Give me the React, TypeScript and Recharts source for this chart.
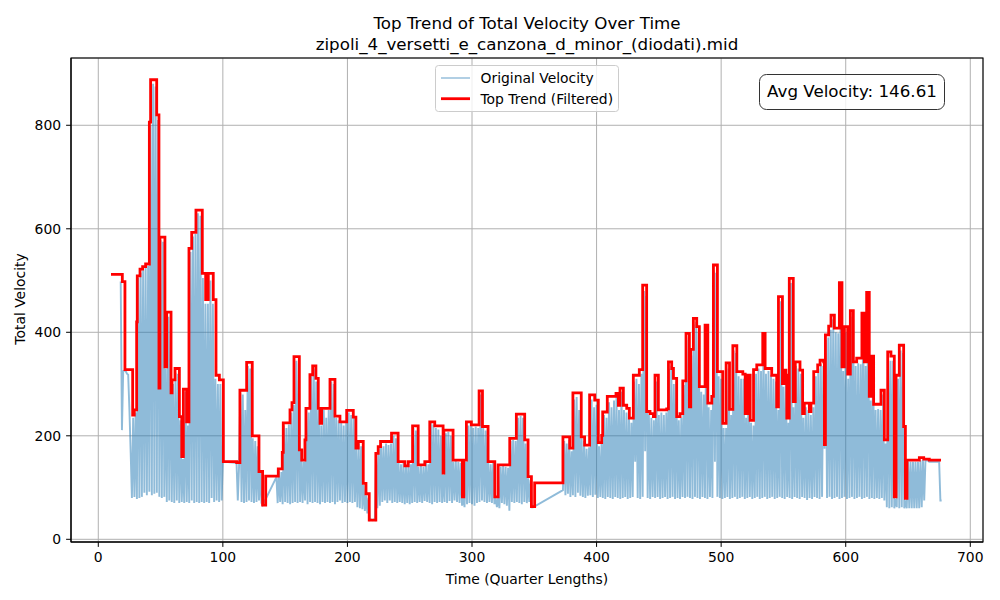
import { LineChart, Line, XAxis, YAxis, CartesianGrid, Legend } from 'recharts'

// Original velocity, read every 1 quarter length, in four runs
const ORIG_STEP = 1
const origStartA = 18
const origVelA = [
  498, 211, 325, 326, 325, 320, 318, 250, 168, 80,
  235, 82, 245, 78, 505, 80, 515, 82, 520, 90,
  525, 85, 528, 92, 800, 85, 880, 88, 875, 90,
  810, 82, 578, 80, 575, 82, 330, 72, 430, 75,
  430, 72, 300, 70, 322, 75, 320, 70, 230, 72,
  155, 70, 285, 72, 220, 70, 555, 75, 585, 70,
  590, 72, 630, 70, 625, 72, 505, 70, 455, 72,
  455, 70, 500, 80, 455, 72, 310, 75, 300, 72,
  300, 75, 150,
]
const origStartB = 110
const origVelB = [
  148, 146, 75, 140, 282, 72, 280, 70, 250, 72,
  335, 75, 330, 72, 195, 70, 190, 72, 180, 75,
  128, 70, 66,
]
const origStartC = 143
const origVelC = [
  120, 70, 132, 72, 130, 68, 220, 72, 215, 70,
  222, 68, 245, 70, 260, 72, 345, 70, 340, 72,
  168, 70, 150, 75, 250, 68, 245, 72, 315, 70,
  330, 72, 305, 70, 250, 68, 220, 72, 250, 70,
  235, 72, 250, 70, 305, 72, 300, 68, 235, 72,
  230, 75, 225, 70, 220, 72, 225, 70, 245, 72,
  240, 70, 235, 72, 175, 62, 185, 60, 180, 58,
  105, 55, 85, 50, 80, 37, 38, 37, 38, 37,
  160, 60, 178, 65, 185, 72, 180, 75, 185, 70,
  182, 75, 185, 70, 200, 72, 195, 70, 148, 72,
  145, 70, 148, 68, 140, 70, 148, 68, 145, 70,
  215, 72, 210, 70, 140, 72, 142, 70, 140, 74,
  148, 72, 145, 70, 225, 68, 222, 72, 215, 70,
  212, 72, 200, 70, 125, 72, 205, 70, 208, 74,
  200, 70, 150, 75, 152, 72, 150, 70, 148, 65,
  80, 62, 150, 68, 220, 70, 225, 68, 215, 65,
  218, 70, 215, 72, 280, 75, 215, 72, 210, 70,
  148, 72, 145, 70, 148, 68, 80, 62, 80, 60,
  140, 70, 142, 68, 140, 65, 138, 55, 190, 72,
  192, 70, 190, 72, 235, 70, 238, 68, 235, 72,
  185, 70, 118, 72, 115, 62, 62,
]
const origStartD = 373
const origVelD = [
  95, 190, 85, 185, 88, 192, 82, 170, 85, 270,
  82, 275, 90, 250, 84, 195, 82, 190, 80, 175,
  84, 178, 85, 270, 82, 255, 86, 260, 80, 180,
  82, 185, 80, 240, 78, 235, 82, 265, 80, 255,
  78, 268, 82, 275, 80, 250, 78, 285, 80, 250,
  82, 245, 78, 245, 80, 225, 82, 305, 150, 310,
  80, 300, 78, 320, 82, 480, 170, 470, 80, 240,
  78, 235, 82, 230, 80, 305, 82, 240, 78, 245,
  80, 240, 82, 245, 78, 330, 80, 335, 82, 300,
  78, 305, 80, 230, 78, 235, 82, 298, 80, 390,
  82, 385, 80, 355, 78, 415, 82, 420, 80, 400,
  78, 285, 82, 280, 80, 405, 78, 255, 82, 250,
  80, 520, 150, 515, 82, 315, 80, 310, 78, 215,
  80, 215, 82, 330, 78, 240, 80, 365, 82, 360,
  78, 315, 80, 310, 82, 310, 78, 235, 80, 305,
  82, 225, 78, 220, 80, 320, 82, 330, 78, 325,
  80, 390, 82, 320, 78, 325, 80, 318, 82, 310,
  78, 305, 80, 250, 82, 460, 80, 295, 78, 315,
  82, 225, 80, 495, 78, 255, 82, 335, 80, 330,
  78, 320, 82, 235, 80, 255, 76, 250, 80, 240,
  78, 255, 82, 315, 80, 330, 78, 338, 82, 335,
  175, 385, 80, 390, 82, 405, 78, 425, 80, 400,
  82, 398, 78, 485, 80, 325, 82, 400, 78, 310,
  80, 430, 82, 425, 78, 335, 80, 340, 82, 338,
  78, 425, 80, 335, 82, 465, 78, 268, 80, 345,
  78, 250, 80, 252, 78, 250, 80, 280, 75, 185,
  62, 350, 60, 345, 62, 345, 60, 78, 62, 310,
  60, 365, 62, 360, 60, 75, 60, 150, 60, 150,
  60, 150, 60, 150, 60, 150, 60, 152, 62, 153,
  75, 152, 152, 152, 150, 150, 150, 150, 150, 150,
  150, 150, 150, 75, 75,
]

// Top trend (filtered), step changes
const trendTime = [
  10.2, 19.3, 21.4, 27.6, 28.9, 30.8, 31.3, 33.5, 35.6, 38,
  41, 42, 46.9, 48.7, 49.5, 53.5, 54.9, 58.4, 59.2, 61.6,
  65.1, 67, 68.3, 70.9, 72.8, 75, 78.4, 83.5, 86.2, 88.3,
  92.3, 94.5, 97.2, 100.4, 111.1, 113.7, 119.1, 123.6, 129, 131.9,
  134.4, 144.5, 147.7, 148.5, 153.9, 155.5, 157.1, 161.4, 163.3, 165.9,
  166.7, 169.9, 172.1, 174.7, 176.6, 178, 179.3, 186, 190, 194,
  199.4, 204.7, 206.8, 208.7, 212.7, 214.9, 217.5, 222.8, 224.7, 226.6,
  235.4, 240.7, 246.1, 248.8, 252.3, 256.8, 262.1, 266.1, 270.1, 276.8,
  277.4, 284.8, 292.3, 293.4, 295.5, 299.5, 305.7, 308.4, 312.9, 318.3,
  321, 330.3, 335.6, 342.3, 345, 347.7, 350.3, 373, 378.4, 381,
  387.7, 390.4, 394.4, 398.5, 401.4, 404.1, 404.9, 408.6, 415.6, 417.5,
  418.8, 421.5, 424.2, 426.3, 429.5, 434.3, 437, 440.2, 442.9, 445.6,
  446.9, 449.6, 456.3, 457.7, 460.3, 461.7, 464.3, 467, 469.2, 471.8,
  474.5, 475.6, 477.7, 480.4, 482.5, 487.1, 489.3, 492.5, 493.8, 497,
  501.3, 504, 506.7, 509.4, 512.6, 517.4, 519.3, 521.1, 523.3, 526,
  528.6, 533.4, 535.3, 540.6, 544.6, 546, 549.2, 550.6, 552, 552.7,
  554.7, 557.9, 559.5, 563.3, 565.4, 566.8, 570.8, 572.1, 574.3, 577.5,
  579.4, 582.3, 582.9, 583.7, 586.3, 588.2, 590.9, 594.9, 597, 598.9,
  601.6, 603.7, 606.1, 608.8, 613, 614.9, 616.8, 618.9, 620.3, 622.4,
  628.3, 631, 633.7, 636.3, 639, 640.4, 643, 646.5, 647.9, 649.2,
  659.1, 662.6, 667.1, 676.5,
]
const trendValue = [
  512, 498, 328, 240, 250, 420, 509, 522, 527, 532,
  806, 888, 820, 292, 584, 333, 439, 283, 308, 330,
  237, 160, 290, 227, 562, 593, 636, 514, 463, 514,
  463, 317, 308, 150, 148, 288, 342, 200, 131, 66,
  122, 136, 168, 225, 250, 264, 353, 173, 153, 192,
  253, 318, 335, 311, 253, 224, 253, 309, 238, 227,
  249, 236, 176, 189, 108, 88, 37, 166, 179, 189,
  205, 150, 142, 150, 219, 144, 150, 227, 219, 128,
  211, 153, 82, 153, 227, 221, 287, 218, 150, 82,
  144, 195, 242, 192, 121, 63, 109, 198, 176, 283,
  198, 182, 279, 269, 187, 201, 246, 276, 282, 259,
  292, 259, 253, 234, 317, 328, 491, 247, 243, 237,
  317, 250, 252, 343, 330, 311, 237, 243, 306, 398,
  256, 367, 427, 411, 295, 414, 263, 276, 530, 324,
  224, 341, 251, 374, 324, 319, 243, 317, 230, 328,
  337, 398, 330, 317, 256, 469, 301, 327, 317, 234,
  504, 266, 343, 327, 243, 263, 247, 263, 324, 337,
  346, 343, 183, 395, 412, 433, 408, 496, 333, 411,
  319, 442, 343, 350, 437, 343, 477, 276, 354, 261,
  288, 192, 362, 354, 82, 317, 375, 218, 79, 153,
  158, 155, 153, 153,
]

const xTicks = [0, 100, 200, 300, 400, 500, 600, 700]
const yTicks = [0, 200, 400, 600, 800]
const avgVelocity = 146.61

const origRuns: [number, number[]][] = [
  [origStartA, origVelA],
  [origStartB, origVelB],
  [origStartC, origVelC],
  [origStartD, origVelD],
]
const origData = origRuns.flatMap(([start, vals]) =>
  vals.map((v, i) => ({ t: start + i * ORIG_STEP, v }))
)
const trendData = trendTime.map((t, i) => ({ t, v: trendValue[i] }))

const FONT = '"DejaVu Sans", sans-serif'
const tickStyle = { fontSize: 13.9, fill: '#000', fontFamily: FONT }

function LegendBox({ payload }: any) {
  const items = payload || []
  return (
    <svg width={184} height={47} style={{ display: 'block', fontFamily: FONT }}>
      <rect x={0.5} y={0.5} width={183} height={46} rx={3} fill="#fff" fillOpacity={0.8} stroke="#cccccc" />
      {items.map((it: any, i: number) => {
        const y = 13 + i * 20.7
        const red = it.color === '#ff0000'
        return (
          <g key={i}>
            <line x1={6} x2={35} y1={y} y2={y} stroke={it.color}
              strokeOpacity={red ? 1 : 0.5} strokeWidth={red ? 2.8 : 1.4} />
            <text x={45.5} y={y + 5.2} fontSize={13.9} fill="#000">{it.value}</text>
          </g>
        )
      })}
    </svg>
  )
}

export default function App() {
  return (
    <div style={{ position: 'absolute', left: 0, top: 0, width: 1000, height: 600, background: '#fff' }}>
      <LineChart width={1000} height={600} margin={{ top: 58, right: 17, bottom: 0, left: 0 }}>
        <CartesianGrid stroke="#b0b0b0" strokeWidth={1} />
        <XAxis
          type="number"
          dataKey="t"
          domain={[-21.9, 710.2]}
          ticks={xTicks}
          allowDataOverflow
          height={58}
          tick={tickStyle}
          tickSize={4.9}
          tickMargin={5}
          stroke="#000"
          label={{
            content: () => (
              <text x={527} y={584} textAnchor="middle" fontSize={13.9} fontFamily={FONT} fill="#000">
                Time (Quarter Lengths)
              </text>
            ),
          }}
        />
        <YAxis
          type="number"
          domain={[-5.2, 930]}
          ticks={yTicks}
          allowDataOverflow
          width={71}
          tick={tickStyle}
          tickSize={4.9}
          tickMargin={5}
          stroke="#000"
          label={{
            content: () => (
              <text x={25} y={299} transform="rotate(-90 25 299)" textAnchor="middle"
                fontSize={13.9} fontFamily={FONT} fill="#000">
                Total Velocity
              </text>
            ),
          }}
        />
        <Line
          data={origData}
          dataKey="v"
          name="Original Velocity"
          type="linear"
          stroke="#1f77b4"
          strokeOpacity={0.5}
          strokeWidth={1.9}
          dot={false}
          activeDot={false}
          isAnimationActive={false}
        />
        <Line
          data={trendData}
          dataKey="v"
          name="Top Trend (Filtered)"
          type="stepAfter"
          stroke="#ff0000"
          strokeWidth={2.8}
          dot={false}
          activeDot={false}
          isAnimationActive={false}
        />
        <Legend
          layout="vertical"
          align="center"
          verticalAlign="middle"
          wrapperStyle={{ left: 435, top: 65, width: 184, height: 47 }}
          content={<LegendBox />}
        />
      </LineChart>
      <svg width={1000} height={600} style={{ position: 'absolute', left: 0, top: 0, pointerEvents: 'none', fontFamily: FONT }}>
        <rect x={71} y={58} width={912} height={484} fill="none" stroke="#000" strokeWidth={1.1} />
        <text x={527} y={29} textAnchor="middle" fontSize={16.7} fill="#000">Top Trend of Total Velocity Over Time</text>
        <text x={527} y={50} textAnchor="middle" fontSize={16.7} fill="#000">zipoli_4_versetti_e_canzona_d_minor_(diodati).mid</text>
        <rect x={759.5} y={74.5} width={185} height={35} rx={7} fill="#fff" fillOpacity={0.8} stroke="#333" strokeWidth={1} />
        <text x={852} y={97} textAnchor="middle" fontSize={16.7} fill="#000">{`Avg Velocity: ${avgVelocity.toFixed(2)}`}</text>
      </svg>
    </div>
  )
}
